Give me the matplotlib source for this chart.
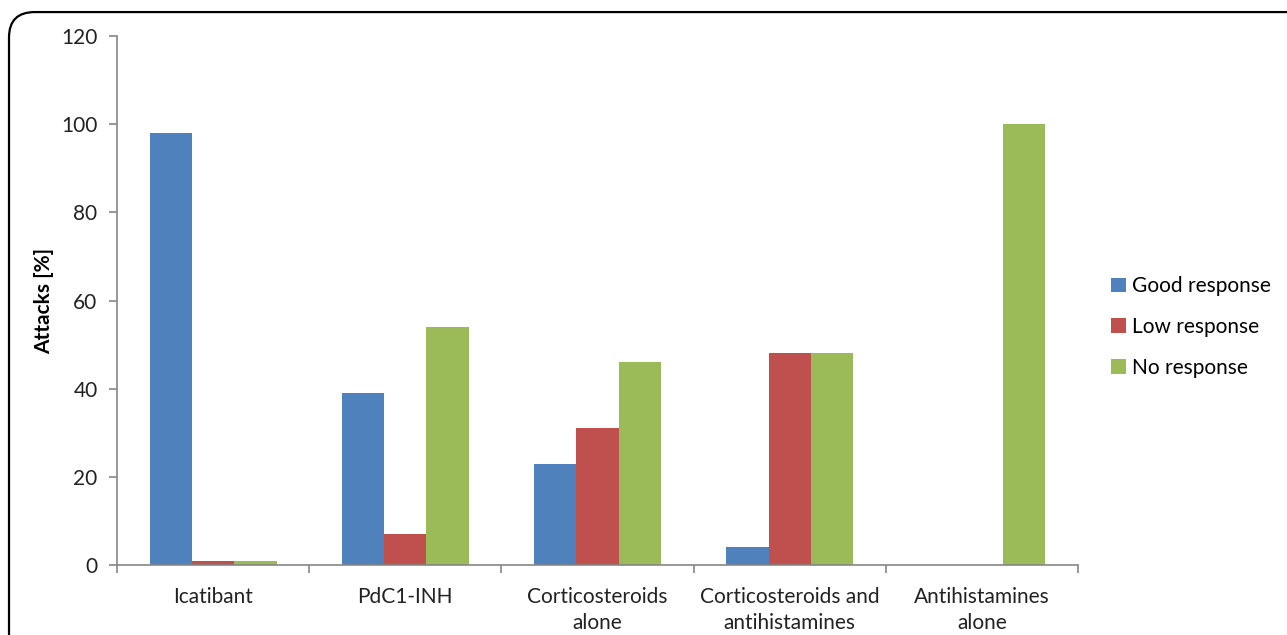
import numpy as np
import matplotlib
matplotlib.use('Agg')
import matplotlib.pyplot as plt
from matplotlib.patches import FancyBboxPatch

plt.rcParams['font.family'] = ['Lato', 'DejaVu Sans']

categories = ['Icatibant', 'PdC1-INH', 'Corticosteroids\nalone',
              'Corticosteroids and\nantihistamines', 'Antihistamines\nalone']
series = ['Good response', 'Low response', 'No response']
good = [98, 39, 23, 4, 0]
low = [1, 7, 31, 48, 0]
no_resp = [1, 54, 46, 48, 100]
yticks = [0, 20, 40, 60, 80, 100, 120]

colors = ['#4F81BD', '#C0504D', '#9BBB59']
axis_col = '#868686'
font_size = 15

fig = plt.figure(figsize=(12.87, 6.35), dpi=100)
ax = fig.add_axes([0.0909, 0.1102, 0.7467, 0.8331])

# rounded frame round the figure, cut off at right and bottom
frame = FancyBboxPatch((0.007, -0.05), 1.05, 1.031,
                       boxstyle='round,pad=0,rounding_size=0.02',
                       transform=fig.transFigure, fill=False,
                       edgecolor='black', linewidth=1.6, clip_on=False,
                       mutation_aspect=2.0)
fig.patches.append(frame)

x = np.arange(len(categories))
w = 0.22
for i, vals in enumerate([good, low, no_resp]):
    ax.bar(x + (i - 1) * w, vals, width=w, color=colors[i], label=series[i])

ax.set_xlim(-0.5, len(categories) - 0.5)
ax.set_ylim(0, 120)
ax.set_yticks(yticks)
ax.set_xticks(x)
ax.set_xticklabels(categories, fontsize=font_size, color='#222222', linespacing=1.35)
ax.set_xticks(np.arange(len(categories) + 1) - 0.5, minor=True)
ax.tick_params(axis='x', which='major', length=0, pad=16)
ax.tick_params(axis='x', which='minor', length=6, width=1.2, color=axis_col, direction='out')
ax.tick_params(axis='y', length=6, width=1.2, color=axis_col, labelsize=font_size,
               labelcolor='#222222', pad=8)

for s in ['top', 'right']:
    ax.spines[s].set_visible(False)
for s in ['left', 'bottom']:
    ax.spines[s].set_color(axis_col)
    ax.spines[s].set_linewidth(1.2)

ax.set_ylabel('Attacks [%]', fontsize=font_size, fontweight='bold', labelpad=5)

leg = ax.legend(loc='center left', bbox_to_anchor=(1.015, 0.45), frameon=False,
                fontsize=font_size, handlelength=0.7, handleheight=0.7,
                handletextpad=0.3, labelspacing=1.0)

plt.savefig('out.png', dpi=100)
